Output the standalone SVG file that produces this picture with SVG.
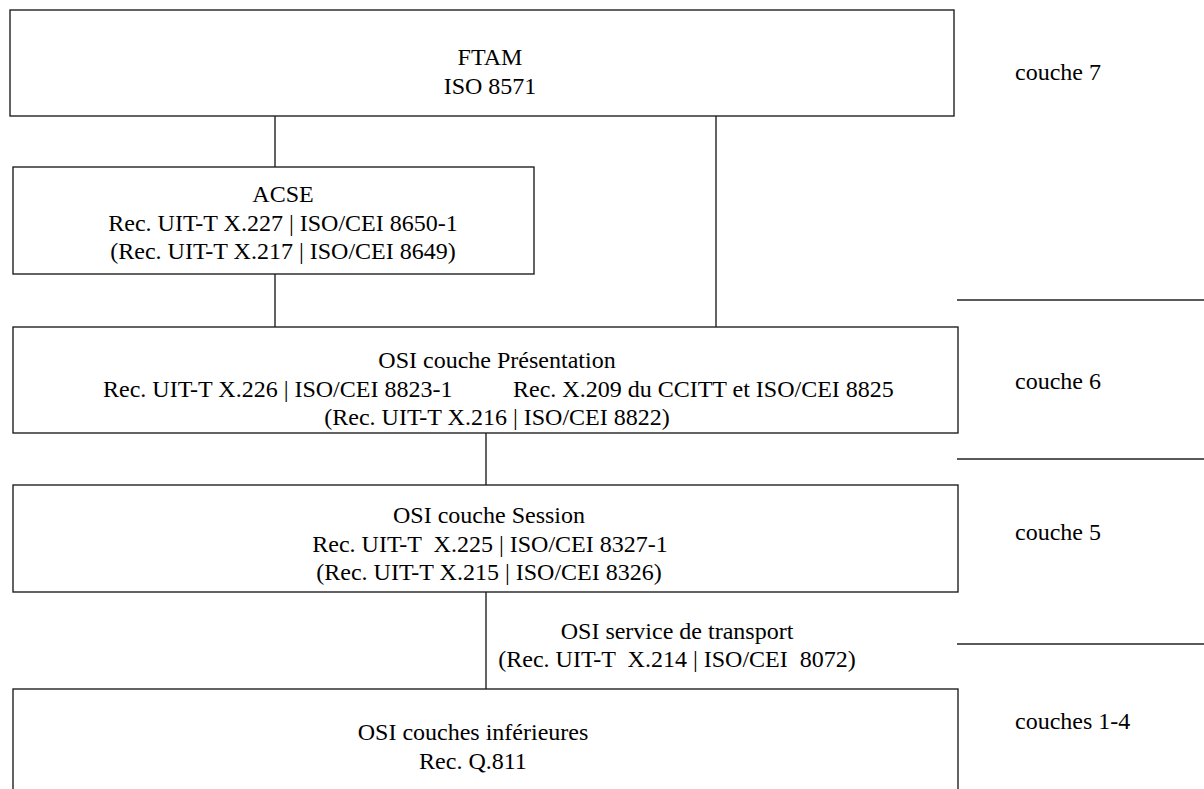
<svg xmlns="http://www.w3.org/2000/svg" width="1204" height="789" viewBox="0 0 1204 789">
<style>
text{font-family:"Liberation Serif","Times New Roman",serif;font-size:24px;fill:#000;white-space:pre}
.m{text-anchor:middle}
.box{fill:#fff;stroke:#222;stroke-width:1.4}
.ln{stroke:#222;stroke-width:1.4;fill:none}
</style>
<rect width="1204" height="789" fill="#fff"/>
<g id="connectors">
<line class="ln" x1="275" y1="116" x2="275" y2="167"/>
<line class="ln" x1="275" y1="274" x2="275" y2="327"/>
<line class="ln" x1="716" y1="116" x2="716" y2="327"/>
<line class="ln" x1="486" y1="433" x2="486" y2="485"/>
<line class="ln" x1="486" y1="592" x2="486" y2="689"/>
<line class="ln" x1="957" y1="300" x2="1204" y2="300"/>
<line class="ln" x1="957" y1="459" x2="1204" y2="459"/>
<line class="ln" x1="957" y1="644" x2="1204" y2="644"/>
</g>
<g id="ftam">
<rect class="box" x="10" y="10" width="944" height="106"/>
<text class="m" x="490" y="65">FTAM</text>
<text class="m" x="490" y="94">ISO 8571</text>
</g>
<g id="acse">
<rect class="box" x="13" y="167" width="521" height="107"/>
<text class="m" x="283" y="202">ACSE</text>
<text class="m" x="283" y="231">Rec. UIT-T X.227 | ISO/CEI 8650-1</text>
<text class="m" x="283" y="259">(Rec. UIT-T X.217 | ISO/CEI 8649)</text>
</g>
<g id="presentation">
<rect class="box" x="13" y="327" width="945" height="106"/>
<text class="m" x="497" y="368">OSI couche Présentation</text>
<text x="103" y="397">Rec. UIT-T X.226 | ISO/CEI 8823-1</text>
<text x="513" y="397">Rec. X.209 du CCITT et ISO/CEI 8825</text>
<text class="m" x="497" y="425">(Rec. UIT-T X.216 | ISO/CEI 8822)</text>
</g>
<g id="session">
<rect class="box" x="13" y="485" width="945" height="107"/>
<text class="m" x="489" y="523">OSI couche Session</text>
<text class="m" x="490" y="552">Rec. UIT-T  X.225 | ISO/CEI 8327-1</text>
<text class="m" x="489" y="580">(Rec. UIT-T X.215 | ISO/CEI 8326)</text>
</g>
<g id="transport">
<text class="m" x="677" y="639">OSI service de transport</text>
<text class="m" x="677" y="667">(Rec. UIT-T  X.214 | ISO/CEI  8072)</text>
</g>
<g id="lower">
<rect class="box" x="13" y="689" width="945" height="120"/>
<text class="m" x="473" y="740">OSI couches inférieures</text>
<text class="m" x="473" y="769">Rec. Q.811</text>
</g>
<g id="layers">
<text x="1015" y="80">couche 7</text>
<text x="1015" y="389">couche 6</text>
<text x="1015" y="540">couche 5</text>
<text x="1015" y="729">couches 1-4</text>
</g>
</svg>
